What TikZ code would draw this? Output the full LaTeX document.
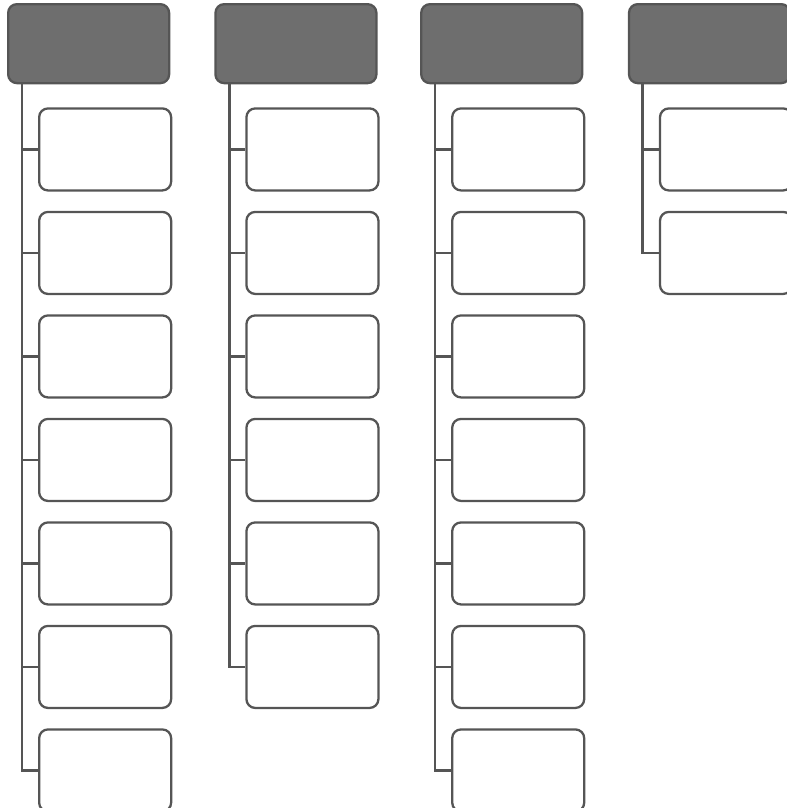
\documentclass[tikz,border=0pt]{standalone}
\usepackage{tikz}
\usetikzlibrary{positioning}
\definecolor{HeadGray}{HTML}{6E6E6E}
\definecolor{EdgeGray}{HTML}{555555}
\tikzset{
  head/.style={rectangle,rounded corners=5pt,draw=EdgeGray,fill=HeadGray,line width=1.3pt,
               minimum width=3.22cm,minimum height=1.58cm,inner sep=0pt},
  item/.style={rectangle,rounded corners=5pt,draw=EdgeGray,fill=white,line width=1.3pt,
               minimum width=2.64cm,minimum height=1.64cm,inner sep=0pt},
  trunk/.style={line width=1.6pt,color=EdgeGray},
}

\begin{document}
\begin{tikzpicture}
  \useasboundingbox (0,0) rectangle (15.74,-16.16);
  \node[head, anchor=north west] at (0.14,-0.06) (h1) {};
  \node[head, right=0.88cm of h1] (h2) {};
  \node[head, right=0.85cm of h2] (h3) {};
  \node[head, right=0.89cm of h3] (h4) {};

  % children and connectors per column
  \foreach \col/\num in {1/7,2/6,3/7,4/2} {
    \foreach \i in {1,...,\num} {
      \pgfmathsetmacro\dy{0.46+(\i-1)*2.07}
      \node[item, below right=\dy cm and 0.62cm of h\col.south west] (c\col-\i) {};
      \draw[trunk] ([xshift=0.3cm]h\col.south west) |- (c\col-\i.west);
    }
  }
\end{tikzpicture}
\end{document}
